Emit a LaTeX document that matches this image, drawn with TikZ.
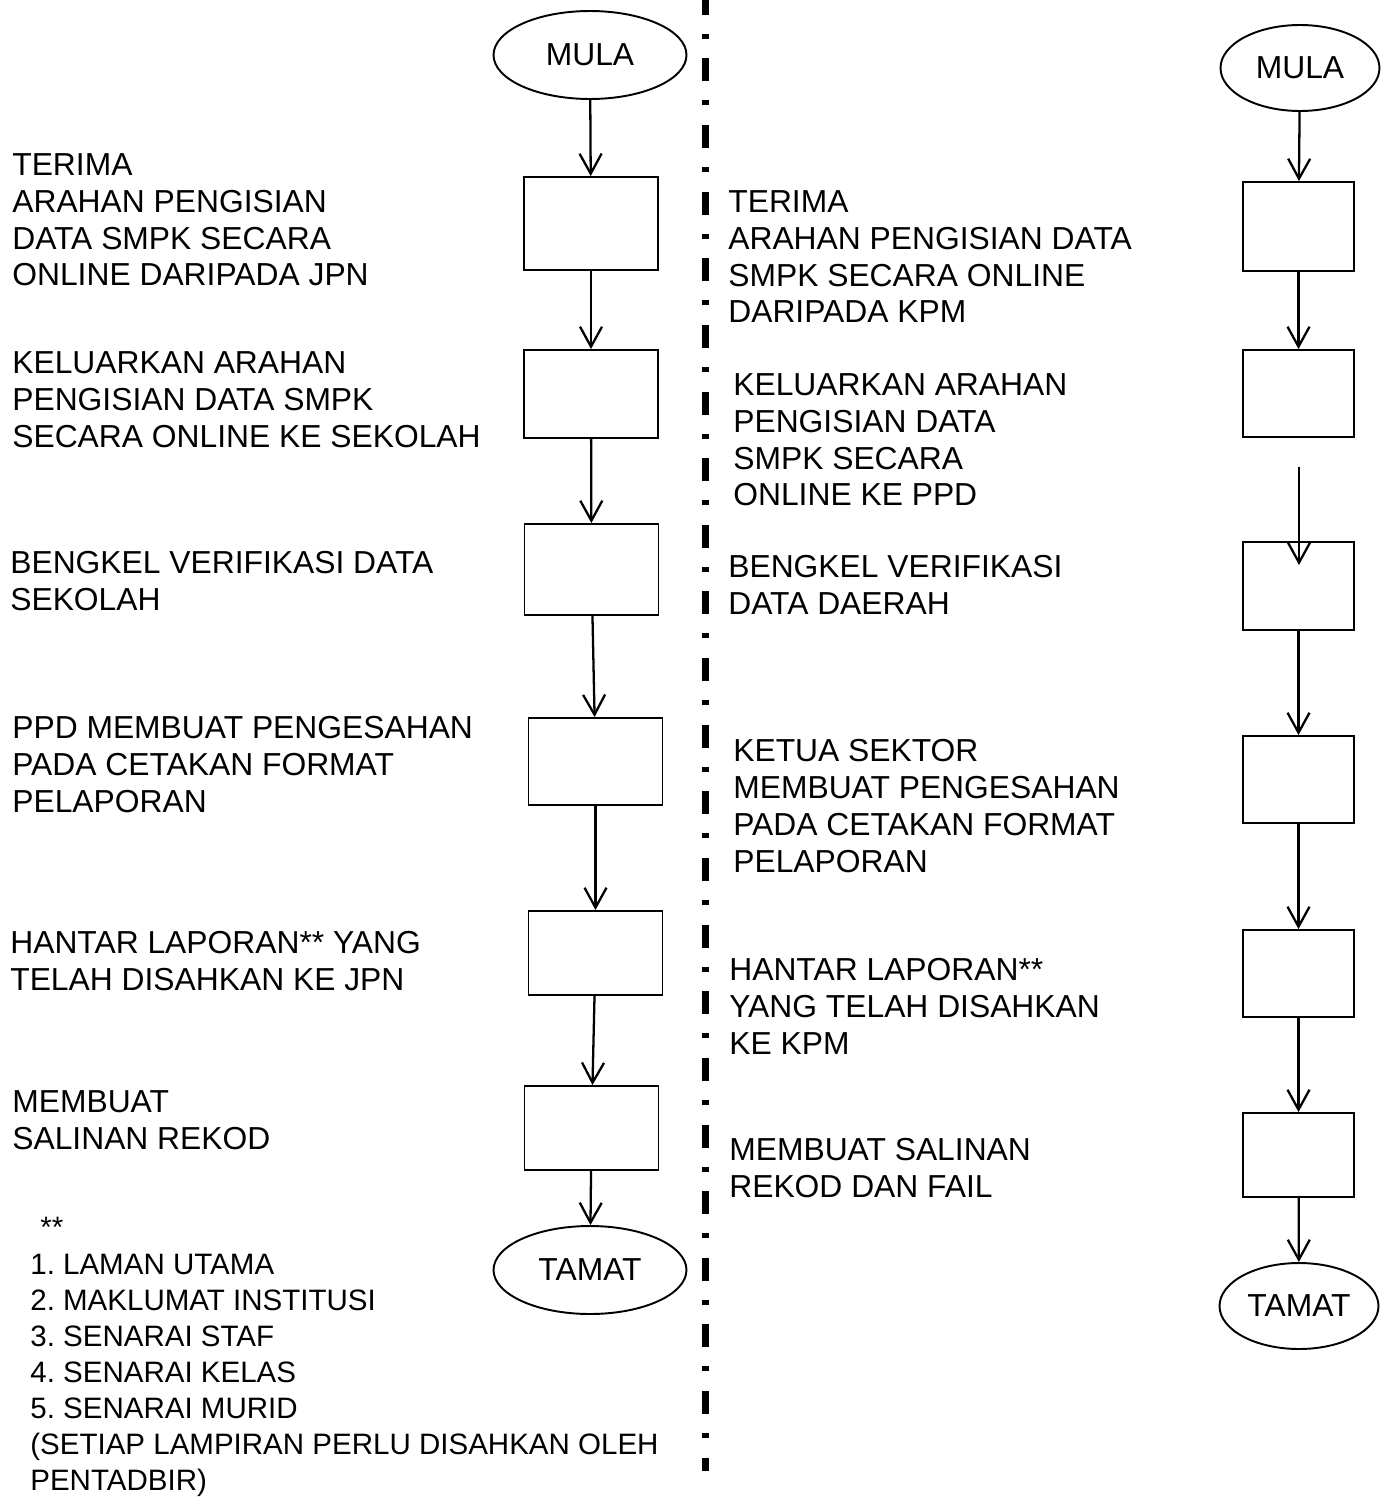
\documentclass[tikz,border=0pt]{standalone}
\usepackage{fontspec}
\setmainfont{Liberation Sans}
\usetikzlibrary{positioning}
\usetikzlibrary{arrows.meta}
\usetikzlibrary{shapes.geometric}
\frenchspacing
\newcommand{\flowfont}{\fontsize{18.1pt}{21pt}\selectfont}
\newcommand{\notefont}{\fontsize{16.8pt}{20.5pt}\selectfont}

\begin{document}
\begin{tikzpicture}[
    x=0.02cm, y=-0.02cm,
    >={Straight Barb[length=0.4cm,width=0.44cm]},
    % node styles
    stepbox/.style = {
      draw,
      line width=1.1pt,
      minimum width=2.68cm,
      minimum height=1.74cm,
      inner sep=0pt
    },
    rstepbox/.style = {stepbox, minimum width=2.22cm},
    term/.style = {
      ellipse,
      draw,
      line width=1.1pt,
      minimum width=3.86cm,
      minimum height=1.76cm,
      inner sep=0pt,
      font=\flowfont
    },
    rterm/.style = {term, minimum width=3.18cm, minimum height=1.72cm},
    desc/.style = {
      anchor=north west,
      inner sep=0pt,
      align=left,
      font=\flowfont
    },
    note/.style = {desc, font=\notefont},
    % arrow styles
    arr/.style = {->, line width=1.3pt},
    divider/.style = {line width=0.14cm, dash pattern=on 0.46cm off 0.38cm on 0.1cm off 0.393cm}
  ]
  \useasboundingbox (0,0) rectangle (1384,1501);

  % --- Divider
  \coordinate (divtop) at (705,-8.3);
  \coordinate (divbot) at (705,1471);
  \draw[divider] (divtop) -- (divbot);

  % --- Left flow
  \node[term] (mula) at (590,55) {MULA};
  \node[stepbox, minimum height=1.86cm] (b1) at (591,223.5) {};
  \node[stepbox, minimum height=1.76cm] (b2) at (591,394) {};
  \node[stepbox, minimum height=1.82cm] (b3) at (591.5,569.5) {};
  \node[stepbox] (b4) at (595.5,761.5) {};
  \node[stepbox, minimum height=1.68cm] (b5) at (595.5,953) {};
  \node[stepbox, minimum height=1.68cm] (b6) at (591.5,1128) {};
  \node[term] (tamat) at (590,1270) {TAMAT};

  \node[desc] (t1) at (12,153) {TERIMA\\ARAHAN PENGISIAN\\DATA SMPK SECARA\\ONLINE DARIPADA JPN};
  \node[desc] (t2) at (12,351) {KELUARKAN ARAHAN\\PENGISIAN DATA SMPK\\SECARA ONLINE KE SEKOLAH};
  \node[desc] (t3) at (10,551) {BENGKEL VERIFIKASI DATA\\SEKOLAH};
  \node[desc] (t4) at (12,716) {PPD MEMBUAT PENGESAHAN\\PADA CETAKAN FORMAT\\PELAPORAN};
  \node[desc] (t5) at (10,931) {HANTAR LAPORAN** YANG\\TELAH DISAHKAN KE JPN};
  \node[desc] (t6) at (12,1090) {MEMBUAT\\SALINAN REKOD};
  \node[note] (stars) at (40,1217) {**};
  \node[note] (list) at (30,1254) {1. LAMAN UTAMA\\2. MAKLUMAT INSTITUSI\\3. SENARAI STAF\\4. SENARAI KELAS\\5. SENARAI MURID\\(SETIAP LAMPIRAN PERLU DISAHKAN OLEH\\PENTADBIR)};

  % --- Right flow
  \node[rterm] (rmula) at (1300,68) {MULA};
  \node[rstepbox, minimum height=1.78cm] (r1) at (1298.5,226.5) {};
  \node[rstepbox] (r2) at (1298.5,393.5) {};
  \node[rstepbox, minimum height=1.76cm] (r3) at (1298.5,586) {};
  \node[rstepbox] (r4) at (1298.5,779.5) {};
  \node[rstepbox] (r5) at (1298.5,973.5) {};
  \node[rstepbox, minimum height=1.68cm] (r6) at (1298.5,1155) {};
  \node[rterm] (rtamat) at (1299,1306) {TAMAT};
  \coordinate (gapstart) at (1299,467);
  \coordinate (gapend) at (1299,565);

  \node[desc] (s1) at (728,190) {TERIMA\\ARAHAN PENGISIAN DATA\\SMPK SECARA ONLINE\\DARIPADA KPM};
  \node[desc] (s2) at (733,373) {KELUARKAN ARAHAN\\PENGISIAN DATA\\SMPK SECARA\\ONLINE KE PPD};
  \node[desc] (s3) at (728,555) {BENGKEL VERIFIKASI\\DATA DAERAH};
  \node[desc] (s4) at (733,739) {KETUA SEKTOR\\MEMBUAT PENGESAHAN\\PADA CETAKAN FORMAT\\PELAPORAN};
  \node[desc] (s5) at (729,958) {HANTAR LAPORAN**\\YANG TELAH DISAHKAN\\KE KPM};
  \node[desc] (s6) at (729,1138) {MEMBUAT SALINAN\\REKOD DAN FAIL};

  % --- Arrows
  \draw[arr] (mula) -- (b1);
  \draw[arr] (b1) -- (b2);
  \draw[arr] (b2) -- (b3);
  \draw[arr] (b3) -- (b4);
  \draw[arr] (b4) -- (b5);
  \draw[arr] (b5) -- (b6);
  \draw[arr] (b6) -- (tamat);

  \draw[arr] (rmula) -- (r1);
  \draw[arr] (r1) -- (r2);
  \draw[arr] (gapstart) -- (gapend);
  \draw[arr] (r3) -- (r4);
  \draw[arr] (r4) -- (r5);
  \draw[arr] (r5) -- (r6);
  \draw[arr] (r6) -- (rtamat);

\end{tikzpicture}
\end{document}
